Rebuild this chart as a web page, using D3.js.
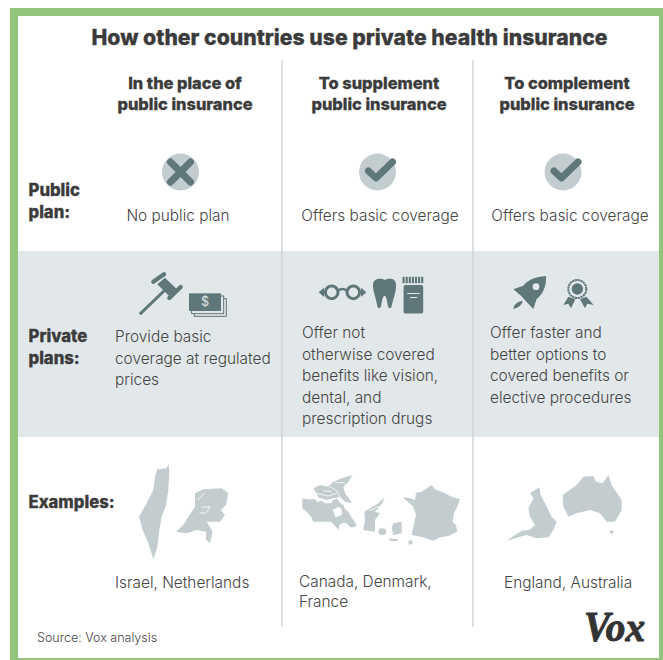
<!DOCTYPE html>
<html>
<head>
<meta charset="utf-8">
<style>
  html, body { margin: 0; padding: 0; background: #fff; }
  svg { display: block; }
  text { font-family: Inter, "Liberation Sans", sans-serif; fill: #454545; }
  .head { font-weight: 800; fill: #3b3b3b; stroke: #3b3b3b; stroke-width: 0.3; }
</style>
</head>
<body>
<svg width="663" height="660">
  <defs><filter id="soft"><feGaussianBlur stdDeviation="1.2"></feGaussianBlur></filter></defs>
</svg>
<script src="https://cdn.jsdelivr.net/npm/d3@7"></script>
<script>
const svg = d3.select('svg');

const TITLE = 'How other countries use private health insurance';
const SOURCE = 'Source: Vox analysis';

const columnHeads = [
  ['In the place of', 'public insurance'],
  ['To supplement', 'public insurance'],
  ['To complement', 'public insurance']
];
const rowHeads = [['Public', 'plan:'], ['Private', 'plans:'], ['Examples:']];
const publicStatus = ['x', 'check', 'check'];
const publicText = ['No public plan', 'Offers basic coverage', 'Offers basic coverage'];
const privateText = [
  ['Provide basic', 'coverage at regulated', 'prices'],
  ['Offer not', 'otherwise covered', 'benefits like vision,', 'dental, and', 'prescription drugs'],
  ['Offer faster and', 'better options to', 'covered benefits or', 'elective procedures']
];
const exampleText = [['Israel, Netherlands'], ['Canada, Denmark,', 'France'], ['England, Australia']];

const DARK = '#607779';
const PALE = '#c3cdcf';
const BAND = '#e2e8e9';
const BODY_SIZE = 15.4;

const columns = [0, 1, 2];
const headX = d3.scaleOrdinal(columns, [185, 379, 567]);
const iconX = d3.scaleOrdinal(columns, [180.5, 377.5, 563]);
const publicX = d3.scaleOrdinal(columns, [178, 380, 570]);
const privateX = d3.scaleOrdinal(columns, [115, 302, 490]);
const privateY = d3.scaleOrdinal(columns, [342, 338, 338]);
const exampleX = d3.scaleOrdinal(columns, [115, 299, 504]);

// frame, grey band, column rules
svg.append('rect').attr('x', 14).attr('y', 12).attr('width', 649).attr('height', 650)
  .attr('fill', '#fff').attr('stroke', '#93c47d').attr('stroke-width', 8);
svg.append('rect').attr('x', 18).attr('y', 251).attr('width', 641).attr('height', 186).attr('fill', BAND);
svg.selectAll('.rule').data([282, 473]).enter().append('line')
  .attr('class', 'rule')
  .attr('x1', d => d).attr('x2', d => d).attr('y1', 60).attr('y2', 627)
  .attr('stroke', '#d2d5d6').attr('stroke-width', 1.5);

svg.append('text').attr('class', 'head').attr('x', 349.5).attr('y', 45)
  .attr('text-anchor', 'middle').attr('font-size', 21.2).text(TITLE);

// draws a block of lines, one tspan per line
function block(sel, lines, gap) {
  sel.selectAll('tspan').data(lines).enter().append('tspan')
    .attr('x', sel.attr('x'))
    .attr('dy', (d, i) => i ? gap : 0)
    .text(d => d);
}

columnHeads.forEach((lines, i) => {
  svg.append('text').attr('class', 'head').attr('x', headX(i)).attr('y', 89)
    .attr('text-anchor', 'middle').attr('font-size', 16.4)
    .call(block, lines, 21);
});

rowHeads.forEach((lines, i) => {
  svg.append('text').attr('class', 'head').attr('x', 28.5).attr('y', [196, 342, 508][i])
    .attr('font-size', 16.7).call(block, lines, 21.5);
});

publicText.forEach((t, i) => {
  svg.append('text').attr('x', publicX(i)).attr('y', 221).attr('text-anchor', 'middle')
    .attr('font-size', BODY_SIZE).attr('font-weight', 300).text(t);
});
privateText.forEach((lines, i) => {
  svg.append('text').attr('x', privateX(i)).attr('y', privateY(i))
    .attr('font-size', BODY_SIZE).attr('font-weight', 300).call(block, lines, 21.5);
});
exampleText.forEach((lines, i) => {
  svg.append('text').attr('x', exampleX(i)).attr('y', i === 1 ? 587 : 588)
    .attr('font-size', BODY_SIZE).attr('font-weight', 300).call(block, lines, 20);
});

svg.append('text').attr('x', 37).attr('y', 642).attr('font-size', 12.5).attr('font-weight', 300).text(SOURCE);
svg.append('text').attr('x', 584).attr('y', 641)
  .style('font-family', '"Liberation Serif", serif').style('fill', '#333')
  .style('stroke', '#333').style('stroke-width', 1)
  .attr('font-size', 42).attr('font-weight', 700).attr('font-style', 'italic')
  .attr('textLength', 61).attr('lengthAdjust', 'spacingAndGlyphs').text('Vox');

// public plan icons
publicStatus.forEach((s, i) => {
  const g = svg.append('g').attr('transform', `translate(${iconX(i)},172)`);
  g.append('circle').attr('r', 18.5).attr('fill', PALE);
  const mark = s === 'x' ? 'M-10,-10L10,10M10,-10L-10,10' : 'M-9,-1L-1.5,6L15,-10';
  g.append('path').attr('d', mark).attr('fill', 'none').attr('stroke', DARK)
    .attr('stroke-width', 7).attr('stroke-linecap', 'round').attr('stroke-linejoin', 'round');
});

// icons and maps were traced in the zoom crops, so each group maps a crop back to the page
const crop = (x, y, k = 3) => svg.append('g').attr('transform', `translate(${x},${y}) scale(${1 / k})`);
const poly = (g, pts, fill) => g.append('polygon').attr('points', pts).attr('fill', fill);
const crack = (g, d) => g.append('path').attr('d', d).attr('fill', 'none').attr('stroke', '#fff').attr('stroke-width', 2.5);

// gavel and cash
const gavel = crop(130, 265);
gavel.append('path').attr('d', 'M32,145L105,75').attr('fill', 'none').attr('stroke', DARK)
  .attr('stroke-width', 9).attr('stroke-linecap', 'round');
gavel.append('path').attr('d', 'M70,50L102,28M118,99L152,66').attr('fill', 'none').attr('stroke', DARK)
  .attr('stroke-width', 13).attr('stroke-linecap', 'round');
poly(gavel, '82,58 105,38 140,72 118,94', DARK);
[16, 8].forEach(o => {
  gavel.append('rect').attr('x', 177 + o).attr('y', 85 + o).attr('width', 96).attr('height', 53)
    .attr('fill', BAND).attr('stroke', DARK).attr('stroke-width', 3);
});
gavel.append('rect').attr('x', 177).attr('y', 85).attr('width', 96).attr('height', 53).attr('fill', DARK);
gavel.append('text').attr('x', 225).attr('y', 124).attr('text-anchor', 'middle')
  .style('fill', BAND).attr('font-size', 38).text('$');

// glasses and tooth
const glasses = crop(310, 265);
[65, 130].forEach(cx => {
  glasses.append('circle').attr('cx', cx).attr('cy', 82).attr('r', 19)
    .attr('fill', 'none').attr('stroke', DARK).attr('stroke-width', 9);
});
poly(glasses, '26,82 42,68 42,96', DARK);
poly(glasses, '169,82 153,68 153,96', DARK);
glasses.append('path').attr('d', 'M85,76Q97,68 110,76').attr('fill', 'none').attr('stroke', DARK).attr('stroke-width', 8);
glasses.append('path').attr('fill', DARK)
  .attr('d', 'M189,62C188,38 214,38 224,45C235,38 260,38 258,62C258,85 249,100 245,124C243,133 235,131 233,120C231,105 228,92 224,92C219,92 216,105 214,120C212,131 205,133 202,124C199,100 190,85 189,62Z');

// pill bottle, traced in the wide band crop (shown at 2.8x)
const bottle = crop(100, 260, 2.8);
d3.range(7).forEach(k => {
  bottle.append('rect').attr('x', 847 + k * 8.7).attr('y', 47).attr('width', 6).attr('height', 18).attr('fill', DARK);
});
bottle.append('rect').attr('x', 850).attr('y', 70).attr('width', 55).attr('height', 80).attr('rx', 5).attr('fill', DARK);
bottle.append('path').attr('d', 'M860,94H895M868,105H888').attr('stroke', BAND).attr('stroke-width', 3);

// rocket and rosette
const rocket = crop(500, 265);
rocket.append('path').attr('fill', DARK)
  .attr('d', 'M138,33C105,35 82,46 70,62L40,73L63,92L78,109L100,132L110,102C130,87 140,60 138,33Z');
rocket.append('circle').attr('cx', 108).attr('cy', 65).attr('r', 10).attr('fill', BAND);
rocket.append('path').attr('fill', DARK).attr('d', 'M40,131C42,118 52,110 68,107C66,120 54,129 40,131Z');
rocket.append('circle').attr('cx', 232).attr('cy', 72).attr('r', 27)
  .attr('fill', 'none').attr('stroke', DARK).attr('stroke-width', 6).attr('stroke-dasharray', '7 1.5');
rocket.append('circle').attr('cx', 232).attr('cy', 72).attr('r', 17).attr('fill', DARK);
poly(rocket, '205,95 190,120 205,116 213,130 226,103', DARK);
poly(rocket, '259,95 281,120 262,116 255,130 240,103', DARK);

// maps
const mapsLeft = crop(100, 450).attr('filter', 'url(#soft)');
poly(mapsLeft, '205,42 200,55 172,58 165,80 160,120 140,160 117,200 128,240 145,280 160,328 172,290 178,240 185,200 198,165 205,120 208,60', PALE);
poly(mapsLeft, '285,130 310,118 365,115 385,130 378,165 362,180 375,195 360,215 320,215 338,245 330,280 318,270 318,245 290,240 260,250 228,245 250,225 262,205 285,170 285,145', PALE);
crack(mapsLeft, 'M292,150L315,128M305,172L330,170L318,190L298,188');

const mapsMiddle = crop(295, 470).attr('filter', 'url(#soft)');
poly(mapsMiddle, '22,85 35,88 60,88 68,96 80,92 90,100 110,100 112,92 125,85 135,98 145,105 150,118 160,125 165,135 172,145 185,165 178,172 165,172 155,160 145,158 133,165 132,180 122,170 108,155 80,155 55,155 48,140 35,125 22,115', PALE);
poly(mapsMiddle, '113,120 130,110 140,118 140,135 122,142', '#fff');
poly(mapsMiddle, '55,55 75,45 100,50 115,35 140,25 172,15 160,35 145,50 150,70 165,90 170,100 150,95 135,80 115,85 95,90 70,82', PALE);
crack(mapsMiddle, 'M55,68L100,78L125,70M105,50L125,62L135,80M120,38L150,38M85,62L110,65');
poly(mapsMiddle, '268,82 250,100 225,115 208,125 210,150 205,180 240,185 240,150 255,130 240,125 262,100', PALE);
crack(mapsMiddle, 'M222,122L255,108');
poly(mapsMiddle, '295,160 320,155 320,190 295,195 290,175', PALE);
poly(mapsMiddle, '282,205 310,208 306,214 285,212', PALE);
poly(mapsMiddle, '340,212 352,210 352,222 342,224', PALE);
mapsMiddle.append('ellipse').attr('cx', 262).attr('cy', 185).attr('rx', 12).attr('ry', 10).attr('fill', PALE);

const mapsRight = crop(380, 450).attr('filter', 'url(#soft)');
poly(mapsRight, '68,142 90,145 105,150 108,128 125,125 155,105 165,118 195,130 215,140 240,148 232,170 222,190 218,215 228,225 232,245 205,258 180,262 160,272 130,262 95,255 100,230 108,195 100,170', PALE);
poly(mapsRight, '478,112 482,135 495,160 505,180 515,200 530,215 520,240 505,262 470,265 440,255 415,262 380,272 405,255 425,242 448,240 465,225 450,200 445,175 460,145 450,130', PALE);
poly(mapsRight, '548,135 590,105 610,80 640,78 648,95 668,100 685,75 695,105 725,150 725,180 705,215 680,215 660,190 630,180 590,190 565,200 550,170', PALE);
poly(mapsRight, '688,242 702,242 695,255', PALE);
</script>
</body>
</html>
